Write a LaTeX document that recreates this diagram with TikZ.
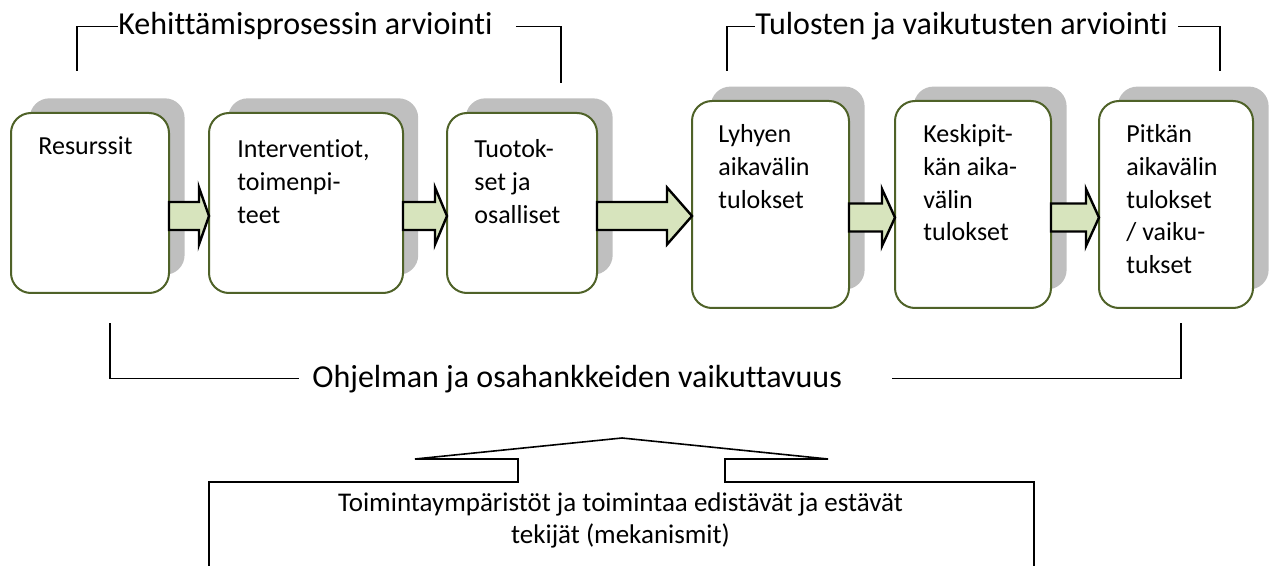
\documentclass[tikz,border=0pt]{standalone}
\usepackage{fontspec}
\setmainfont{Carlito}[Ligatures=CommonOff]
\usetikzlibrary{shadows,calc}

\definecolor{reunavihrea}{RGB}{79,98,40}
\definecolor{varjo}{RGB}{191,191,191}
\definecolor{nuolivihrea}{RGB}{215,228,189}

\tikzset{
  laatikko/.style={draw=reunavihrea, line width=1pt, fill=white, rounded corners=10pt,
    inner sep=0pt, outer sep=0pt,
    drop shadow={shadow scale=0.98, shadow xshift=8.75pt, shadow yshift=8.4pt, fill=varjo, opacity=1}},
  laatikkoteksti/.style={anchor=base west, inner sep=0pt, text width=66pt, align=flush left,
    font=\fontsize{13}{16.3}\selectfont},
  otsikko/.style={anchor=base west, inner sep=0pt, font=\fontsize{16}{19}\selectfont},
  sulku/.style={draw=black, line width=0.8pt},
  nuoli/.style={draw=black, line width=1.2pt, fill=nuolivihrea, line join=miter}
}

\begin{document}
\begin{tikzpicture}[x=0.5pt, y=-0.5pt]
  \useasboundingbox (0,0) rectangle (1272,566);
  %laatikot
  \node[laatikko, minimum width=79pt, minimum height=90pt] (b1) at (90,203) {};
  \node[laatikko, minimum width=97pt, minimum height=90pt] (b2) at (306,203) {};
  \node[laatikko, minimum width=75pt, minimum height=90pt] (b3) at (522,203) {};
  \node[laatikko, minimum width=78.5pt, minimum height=103.5pt] (b4) at (770.5,204.5) {};
  \node[laatikko, minimum width=78pt, minimum height=103.5pt] (b5) at (973,204.5) {};
  \node[laatikko, minimum width=77pt, minimum height=103.5pt] (b6) at (1176,204.5) {};
  %laatikoiden tekstit
  \node[laatikkoteksti] (t1) at ([shift={(27,42)}]b1.north west) {Resurssit};
  \node[laatikkoteksti] (t2) at ([shift={(28,45)}]b2.north west) {Interventiot,\\toimenpi-\\teet};
  \node[laatikkoteksti] (t3) at ([shift={(27,45)}]b3.north west) {Tuotok-\\set ja\\osalliset};
  \node[laatikkoteksti] (t4) at ([shift={(26,42)}]b4.north west) {Lyhyen\\aikavälin\\tulokset};
  \node[laatikkoteksti] (t5) at ([shift={(28,42)}]b5.north west) {Keskipit-\\kän aika-\\välin\\tulokset};
  \node[laatikkoteksti] (t6) at ([shift={(27,42)}]b6.north west) {Pitkän\\aikavälin\\tulokset\\/ vaiku-\\tukset};
  %nuolet
  \foreach \a/\b/\k in {b1/b2/10, b2/b3/12, b3/b4/25, b4/b5/13, b5/b6/13} {
    \coordinate (s) at ($(\a.east)+(0,13)$);
    \coordinate (t) at (\b.west |- s);
    \draw[nuoli] ($(s)+(0,-14)$) -- ($(t)+(-\k,-14)$) -- ($(t)+(-\k,-28.5)$) -- (t)
      -- ($(t)+(-\k,28.5)$) -- ($(t)+(-\k,14)$) -- ($(s)+(0,14)$) -- cycle;
  }
  %ylemmat hakasulkeet
  \node[otsikko] (arv1) at (118,35) {Kehittämisprosessin arviointi};
  \coordinate (arv1v) at (77,71);
  \coordinate (arv1o) at (561,83);
  \draw[sulku] (arv1v) |- (arv1.west);
  \draw[sulku] ([xshift=11.5pt]arv1.east) -| (arv1o);
  \node[otsikko] (arv2) at (755,35) {Tulosten ja vaikutusten arviointi};
  \coordinate (arv2v) at (727,71);
  \coordinate (arv2o) at (1220,71);
  \draw[sulku] (arv2v) |- (arv2.west);
  \draw[sulku] ([xshift=5pt]arv2.east) -| (arv2o);
  %alempi hakasulku
  \node[otsikko] (vaik) at (312,387) {Ohjelman ja osahankkeiden vaikuttavuus};
  \coordinate (vaikv) at (110,323);
  \coordinate (vaiko) at (1181,323);
  \draw[sulku] (vaikv) |- ([xshift=-6.5pt]vaik.west);
  \draw[sulku] ([xshift=25pt]vaik.east) -| (vaiko);
  %puhekupla
  \draw[sulku] (209,566) -- (209,482) -- (518,482) -- (518,459) -- (415,459) -- (622,438)
    -- (828,459) -- (725,459) -- (725,482) -- (1034,482) -- (1034,566);
  \node[anchor=base, inner sep=0pt, text width=300pt, align=flush center,
    font=\fontsize{13.5}{16}\selectfont] (mek) at (620.5,511)
    {Toimintaympäristöt ja toimintaa edistävät ja estävät\\tekijät (mekanismit)};
\end{tikzpicture}
\end{document}
